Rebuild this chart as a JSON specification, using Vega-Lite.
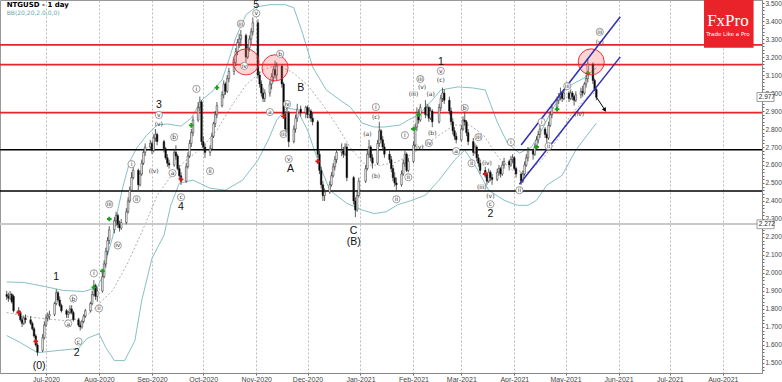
{
"$schema":"https://vega.github.io/schema/vega-lite/v6.json",
"width":762,"height":373,
"autosize":{"type":"none"},
"padding":{"left":0,"top":0,"right":20,"bottom":9},
"background":"white",
"config":{"view":{"stroke":"#999"},"font":"DejaVu Sans"},
"datasets":{
"candles":[
{"d":"2020-06-08","o":1.88,"h":1.90,"l":1.85,"c":1.87},
{"d":"2020-06-09","o":1.87,"h":1.89,"l":1.84,"c":1.86},
{"d":"2020-06-10","o":1.86,"h":1.90,"l":1.85,"c":1.88},
{"d":"2020-06-11","o":1.88,"h":1.89,"l":1.83,"c":1.84},
{"d":"2020-06-12","o":1.87,"h":1.88,"l":1.78,"c":1.79},
{"d":"2020-06-15","o":1.79,"h":1.81,"l":1.76,"c":1.78},
{"d":"2020-06-16","o":1.78,"h":1.79,"l":1.73,"c":1.74},
{"d":"2020-06-17","o":1.74,"h":1.76,"l":1.70,"c":1.72},
{"d":"2020-06-18","o":1.72,"h":1.76,"l":1.71,"c":1.75},
{"d":"2020-06-19","o":1.75,"h":1.77,"l":1.72,"c":1.74},
{"d":"2020-06-22","o":1.74,"h":1.76,"l":1.71,"c":1.72},
{"d":"2020-06-23","o":1.72,"h":1.73,"l":1.68,"c":1.69},
{"d":"2020-06-24","o":1.69,"h":1.70,"l":1.64,"c":1.65},
{"d":"2020-06-25","o":1.65,"h":1.66,"l":1.59,"c":1.60},
{"d":"2020-06-26","o":1.60,"h":1.61,"l":1.54,"c":1.56},
{"d":"2020-06-29","o":1.57,"h":1.66,"l":1.56,"c":1.64},
{"d":"2020-06-30","o":1.64,"h":1.73,"l":1.63,"c":1.71},
{"d":"2020-07-01","o":1.71,"h":1.77,"l":1.70,"c":1.75},
{"d":"2020-07-02","o":1.75,"h":1.78,"l":1.73,"c":1.76},
{"d":"2020-07-03","o":1.76,"h":1.79,"l":1.74,"c":1.77},
{"d":"2020-07-06","o":1.77,"h":1.84,"l":1.76,"c":1.83},
{"d":"2020-07-07","o":1.83,"h":1.91,"l":1.82,"c":1.89},
{"d":"2020-07-08","o":1.89,"h":1.90,"l":1.84,"c":1.85},
{"d":"2020-07-09","o":1.85,"h":1.87,"l":1.81,"c":1.82},
{"d":"2020-07-10","o":1.82,"h":1.83,"l":1.78,"c":1.79},
{"d":"2020-07-13","o":1.79,"h":1.80,"l":1.75,"c":1.77},
{"d":"2020-07-14","o":1.77,"h":1.79,"l":1.75,"c":1.78},
{"d":"2020-07-15","o":1.78,"h":1.82,"l":1.77,"c":1.80},
{"d":"2020-07-16","o":1.80,"h":1.82,"l":1.77,"c":1.78},
{"d":"2020-07-17","o":1.78,"h":1.79,"l":1.73,"c":1.74},
{"d":"2020-07-20","o":1.74,"h":1.75,"l":1.70,"c":1.71},
{"d":"2020-07-21","o":1.71,"h":1.73,"l":1.68,"c":1.70},
{"d":"2020-07-22","o":1.70,"h":1.74,"l":1.69,"c":1.73},
{"d":"2020-07-23","o":1.73,"h":1.77,"l":1.72,"c":1.76},
{"d":"2020-07-24","o":1.76,"h":1.80,"l":1.75,"c":1.79},
{"d":"2020-07-27","o":1.79,"h":1.84,"l":1.78,"c":1.83},
{"d":"2020-07-28","o":1.83,"h":1.90,"l":1.82,"c":1.88},
{"d":"2020-07-29","o":1.88,"h":1.96,"l":1.87,"c":1.93},
{"d":"2020-07-30","o":1.93,"h":1.94,"l":1.85,"c":1.87},
{"d":"2020-07-31","o":1.87,"h":1.92,"l":1.84,"c":1.90},
{"d":"2020-08-03","o":1.90,"h":2.00,"l":1.89,"c":1.98},
{"d":"2020-08-04","o":1.98,"h":2.07,"l":1.97,"c":2.05},
{"d":"2020-08-05","o":2.05,"h":2.14,"l":2.03,"c":2.12},
{"d":"2020-08-06","o":2.12,"h":2.20,"l":2.10,"c":2.18},
{"d":"2020-08-07","o":2.18,"h":2.26,"l":2.16,"c":2.24},
{"d":"2020-08-10","o":2.24,"h":2.31,"l":2.22,"c":2.29},
{"d":"2020-08-11","o":2.29,"h":2.34,"l":2.26,"c":2.32},
{"d":"2020-08-12","o":2.32,"h":2.33,"l":2.25,"c":2.27},
{"d":"2020-08-13","o":2.27,"h":2.29,"l":2.23,"c":2.25},
{"d":"2020-08-14","o":2.25,"h":2.30,"l":2.24,"c":2.28},
{"d":"2020-08-17","o":2.28,"h":2.36,"l":2.27,"c":2.34},
{"d":"2020-08-18","o":2.34,"h":2.42,"l":2.33,"c":2.40},
{"d":"2020-08-19","o":2.40,"h":2.48,"l":2.39,"c":2.46},
{"d":"2020-08-20","o":2.46,"h":2.56,"l":2.45,"c":2.53},
{"d":"2020-08-21","o":2.53,"h":2.60,"l":2.52,"c":2.57},
{"d":"2020-08-24","o":2.57,"h":2.58,"l":2.46,"c":2.49},
{"d":"2020-08-25","o":2.49,"h":2.57,"l":2.48,"c":2.55},
{"d":"2020-08-26","o":2.55,"h":2.63,"l":2.54,"c":2.61},
{"d":"2020-08-27","o":2.61,"h":2.69,"l":2.60,"c":2.67},
{"d":"2020-08-28","o":2.67,"h":2.72,"l":2.65,"c":2.70},
{"d":"2020-08-31","o":2.70,"h":2.74,"l":2.68,"c":2.72},
{"d":"2020-09-01","o":2.72,"h":2.73,"l":2.66,"c":2.68},
{"d":"2020-09-02","o":2.68,"h":2.77,"l":2.67,"c":2.75},
{"d":"2020-09-03","o":2.75,"h":2.80,"l":2.73,"c":2.77},
{"d":"2020-09-04","o":2.77,"h":2.78,"l":2.71,"c":2.73},
{"d":"2020-09-08","o":2.73,"h":2.74,"l":2.67,"c":2.69},
{"d":"2020-09-09","o":2.69,"h":2.70,"l":2.63,"c":2.64},
{"d":"2020-09-10","o":2.64,"h":2.66,"l":2.59,"c":2.61},
{"d":"2020-09-11","o":2.61,"h":2.63,"l":2.58,"c":2.60},
{"d":"2020-09-14","o":2.60,"h":2.69,"l":2.59,"c":2.67},
{"d":"2020-09-15","o":2.67,"h":2.71,"l":2.63,"c":2.65},
{"d":"2020-09-16","o":2.65,"h":2.66,"l":2.57,"c":2.58},
{"d":"2020-09-17","o":2.58,"h":2.60,"l":2.52,"c":2.54},
{"d":"2020-09-18","o":2.54,"h":2.56,"l":2.49,"c":2.51},
{"d":"2020-09-21","o":2.51,"h":2.61,"l":2.50,"c":2.59},
{"d":"2020-09-22","o":2.59,"h":2.67,"l":2.58,"c":2.65},
{"d":"2020-09-23","o":2.65,"h":2.74,"l":2.64,"c":2.72},
{"d":"2020-09-24","o":2.72,"h":2.80,"l":2.70,"c":2.78},
{"d":"2020-09-25","o":2.78,"h":2.87,"l":2.76,"c":2.85},
{"d":"2020-09-28","o":2.85,"h":2.95,"l":2.84,"c":2.92},
{"d":"2020-09-29","o":2.92,"h":2.98,"l":2.90,"c":2.95},
{"d":"2020-09-30","o":2.95,"h":2.96,"l":2.71,"c":2.73},
{"d":"2020-10-01","o":2.73,"h":2.76,"l":2.68,"c":2.70},
{"d":"2020-10-02","o":2.70,"h":2.72,"l":2.64,"c":2.67},
{"d":"2020-10-05","o":2.67,"h":2.71,"l":2.65,"c":2.69},
{"d":"2020-10-06","o":2.69,"h":2.78,"l":2.68,"c":2.76},
{"d":"2020-10-07","o":2.76,"h":2.84,"l":2.75,"c":2.83},
{"d":"2020-10-08","o":2.83,"h":2.90,"l":2.81,"c":2.88},
{"d":"2020-10-09","o":2.88,"h":2.95,"l":2.86,"c":2.93},
{"d":"2020-10-12","o":2.93,"h":3.01,"l":2.92,"c":2.99},
{"d":"2020-10-13","o":2.99,"h":3.07,"l":2.97,"c":3.05},
{"d":"2020-10-14","o":3.05,"h":3.06,"l":2.99,"c":3.01},
{"d":"2020-10-15","o":3.01,"h":3.10,"l":3.00,"c":3.08},
{"d":"2020-10-16","o":3.08,"h":3.14,"l":3.06,"c":3.12},
{"d":"2020-10-19","o":3.12,"h":3.19,"l":3.10,"c":3.17},
{"d":"2020-10-20","o":3.17,"h":3.25,"l":3.15,"c":3.23},
{"d":"2020-10-21","o":3.23,"h":3.30,"l":3.21,"c":3.28},
{"d":"2020-10-22","o":3.28,"h":3.33,"l":3.25,"c":3.30},
{"d":"2020-10-23","o":3.30,"h":3.35,"l":3.26,"c":3.32},
{"d":"2020-10-26","o":3.32,"h":3.33,"l":3.17,"c":3.20},
{"d":"2020-10-27","o":3.20,"h":3.27,"l":3.19,"c":3.25},
{"d":"2020-10-28","o":3.25,"h":3.32,"l":3.23,"c":3.30},
{"d":"2020-10-29","o":3.30,"h":3.36,"l":3.27,"c":3.34},
{"d":"2020-10-30","o":3.34,"h":3.42,"l":3.32,"c":3.39},
{"d":"2020-11-02","o":3.39,"h":3.41,"l":3.08,"c":3.10},
{"d":"2020-11-03","o":3.10,"h":3.12,"l":3.03,"c":3.05},
{"d":"2020-11-04","o":3.05,"h":3.07,"l":2.98,"c":3.00},
{"d":"2020-11-05","o":3.00,"h":3.03,"l":2.95,"c":2.97},
{"d":"2020-11-06","o":2.97,"h":3.02,"l":2.95,"c":3.00},
{"d":"2020-11-09","o":3.00,"h":3.07,"l":2.98,"c":3.05},
{"d":"2020-11-10","o":3.05,"h":3.11,"l":3.02,"c":3.09},
{"d":"2020-11-11","o":3.09,"h":3.15,"l":3.06,"c":3.13},
{"d":"2020-11-12","o":3.13,"h":3.18,"l":3.08,"c":3.10},
{"d":"2020-11-13","o":3.10,"h":3.17,"l":3.07,"c":3.15},
{"d":"2020-11-16","o":3.15,"h":3.16,"l":3.03,"c":3.05},
{"d":"2020-11-17","o":3.05,"h":3.06,"l":2.86,"c":2.88},
{"d":"2020-11-18","o":2.88,"h":2.90,"l":2.77,"c":2.80},
{"d":"2020-11-19","o":2.80,"h":2.92,"l":2.78,"c":2.89},
{"d":"2020-11-20","o":2.89,"h":2.90,"l":2.70,"c":2.73},
{"d":"2020-11-23","o":2.73,"h":2.82,"l":2.72,"c":2.80},
{"d":"2020-11-24","o":2.80,"h":2.88,"l":2.78,"c":2.86},
{"d":"2020-11-25","o":2.86,"h":2.94,"l":2.84,"c":2.91},
{"d":"2020-11-27","o":2.91,"h":2.93,"l":2.87,"c":2.89},
{"d":"2020-11-30","o":2.89,"h":2.93,"l":2.86,"c":2.92},
{"d":"2020-12-01","o":2.92,"h":2.93,"l":2.86,"c":2.88},
{"d":"2020-12-02","o":2.88,"h":2.92,"l":2.86,"c":2.90},
{"d":"2020-12-03","o":2.90,"h":2.91,"l":2.84,"c":2.86},
{"d":"2020-12-04","o":2.86,"h":2.89,"l":2.82,"c":2.84},
{"d":"2020-12-07","o":2.84,"h":2.85,"l":2.64,"c":2.66},
{"d":"2020-12-08","o":2.66,"h":2.68,"l":2.55,"c":2.57},
{"d":"2020-12-09","o":2.57,"h":2.59,"l":2.47,"c":2.49},
{"d":"2020-12-10","o":2.49,"h":2.51,"l":2.40,"c":2.43},
{"d":"2020-12-11","o":2.43,"h":2.47,"l":2.40,"c":2.45},
{"d":"2020-12-14","o":2.45,"h":2.51,"l":2.44,"c":2.49},
{"d":"2020-12-15","o":2.49,"h":2.56,"l":2.48,"c":2.54},
{"d":"2020-12-16","o":2.54,"h":2.61,"l":2.53,"c":2.59},
{"d":"2020-12-17","o":2.59,"h":2.65,"l":2.57,"c":2.63},
{"d":"2020-12-18","o":2.63,"h":2.69,"l":2.61,"c":2.67},
{"d":"2020-12-21","o":2.67,"h":2.72,"l":2.65,"c":2.68},
{"d":"2020-12-22","o":2.68,"h":2.70,"l":2.64,"c":2.66},
{"d":"2020-12-23","o":2.66,"h":2.72,"l":2.65,"c":2.70},
{"d":"2020-12-24","o":2.70,"h":2.72,"l":2.51,"c":2.53},
{"d":"2020-12-28","o":2.53,"h":2.54,"l":2.38,"c":2.40},
{"d":"2020-12-29","o":2.40,"h":2.42,"l":2.31,"c":2.35},
{"d":"2020-12-30","o":2.35,"h":2.45,"l":2.34,"c":2.43},
{"d":"2020-12-31","o":2.43,"h":2.53,"l":2.42,"c":2.51},
{"d":"2021-01-04","o":2.51,"h":2.60,"l":2.50,"c":2.58},
{"d":"2021-01-05","o":2.58,"h":2.68,"l":2.57,"c":2.66},
{"d":"2021-01-06","o":2.66,"h":2.74,"l":2.64,"c":2.70},
{"d":"2021-01-07","o":2.70,"h":2.71,"l":2.62,"c":2.64},
{"d":"2021-01-08","o":2.64,"h":2.66,"l":2.58,"c":2.61},
{"d":"2021-01-11","o":2.61,"h":2.74,"l":2.60,"c":2.72},
{"d":"2021-01-12","o":2.72,"h":2.84,"l":2.70,"c":2.79},
{"d":"2021-01-13","o":2.79,"h":2.80,"l":2.72,"c":2.74},
{"d":"2021-01-14","o":2.74,"h":2.76,"l":2.68,"c":2.70},
{"d":"2021-01-15","o":2.70,"h":2.72,"l":2.64,"c":2.66},
{"d":"2021-01-18","o":2.66,"h":2.68,"l":2.61,"c":2.63},
{"d":"2021-01-19","o":2.63,"h":2.65,"l":2.56,"c":2.58},
{"d":"2021-01-20","o":2.58,"h":2.60,"l":2.51,"c":2.53},
{"d":"2021-01-21","o":2.53,"h":2.56,"l":2.48,"c":2.50},
{"d":"2021-01-22","o":2.50,"h":2.53,"l":2.46,"c":2.49},
{"d":"2021-01-25","o":2.49,"h":2.57,"l":2.48,"c":2.55},
{"d":"2021-01-26","o":2.55,"h":2.63,"l":2.54,"c":2.61},
{"d":"2021-01-27","o":2.61,"h":2.68,"l":2.59,"c":2.66},
{"d":"2021-01-28","o":2.66,"h":2.67,"l":2.56,"c":2.57},
{"d":"2021-01-29","o":2.57,"h":2.64,"l":2.56,"c":2.62},
{"d":"2021-02-01","o":2.62,"h":2.73,"l":2.61,"c":2.71},
{"d":"2021-02-02","o":2.71,"h":2.83,"l":2.70,"c":2.81},
{"d":"2021-02-03","o":2.81,"h":2.92,"l":2.79,"c":2.89},
{"d":"2021-02-04","o":2.89,"h":2.91,"l":2.83,"c":2.85},
{"d":"2021-02-05","o":2.85,"h":2.94,"l":2.84,"c":2.92},
{"d":"2021-02-08","o":2.92,"h":2.96,"l":2.86,"c":2.88},
{"d":"2021-02-09","o":2.88,"h":2.94,"l":2.87,"c":2.92},
{"d":"2021-02-10","o":2.92,"h":2.93,"l":2.84,"c":2.86},
{"d":"2021-02-11","o":2.86,"h":2.92,"l":2.85,"c":2.90},
{"d":"2021-02-12","o":2.90,"h":2.91,"l":2.81,"c":2.84},
{"d":"2021-02-16","o":2.84,"h":2.94,"l":2.83,"c":2.92},
{"d":"2021-02-17","o":2.92,"h":2.99,"l":2.90,"c":2.97},
{"d":"2021-02-18","o":2.97,"h":3.03,"l":2.95,"c":3.00},
{"d":"2021-02-19","o":3.00,"h":3.02,"l":2.94,"c":2.96},
{"d":"2021-02-22","o":2.96,"h":2.98,"l":2.88,"c":2.90},
{"d":"2021-02-23","o":2.90,"h":2.92,"l":2.82,"c":2.84},
{"d":"2021-02-24","o":2.84,"h":2.86,"l":2.77,"c":2.79},
{"d":"2021-02-25","o":2.79,"h":2.81,"l":2.74,"c":2.76},
{"d":"2021-02-26","o":2.76,"h":2.78,"l":2.72,"c":2.74},
{"d":"2021-03-01","o":2.74,"h":2.82,"l":2.73,"c":2.80},
{"d":"2021-03-02","o":2.80,"h":2.87,"l":2.79,"c":2.85},
{"d":"2021-03-03","o":2.85,"h":2.89,"l":2.82,"c":2.84},
{"d":"2021-03-04","o":2.84,"h":2.85,"l":2.76,"c":2.78},
{"d":"2021-03-05","o":2.78,"h":2.80,"l":2.71,"c":2.73},
{"d":"2021-03-08","o":2.73,"h":2.75,"l":2.65,"c":2.67},
{"d":"2021-03-09","o":2.67,"h":2.72,"l":2.66,"c":2.70},
{"d":"2021-03-10","o":2.70,"h":2.71,"l":2.62,"c":2.64},
{"d":"2021-03-11","o":2.64,"h":2.66,"l":2.59,"c":2.61},
{"d":"2021-03-12","o":2.61,"h":2.63,"l":2.55,"c":2.57},
{"d":"2021-03-15","o":2.57,"h":2.59,"l":2.53,"c":2.55},
{"d":"2021-03-16","o":2.55,"h":2.56,"l":2.49,"c":2.51},
{"d":"2021-03-17","o":2.51,"h":2.58,"l":2.50,"c":2.56},
{"d":"2021-03-18","o":2.56,"h":2.57,"l":2.51,"c":2.53},
{"d":"2021-03-19","o":2.53,"h":2.55,"l":2.49,"c":2.52},
{"d":"2021-03-22","o":2.52,"h":2.58,"l":2.51,"c":2.56},
{"d":"2021-03-23","o":2.56,"h":2.60,"l":2.54,"c":2.58},
{"d":"2021-03-24","o":2.58,"h":2.59,"l":2.53,"c":2.55},
{"d":"2021-03-25","o":2.55,"h":2.62,"l":2.54,"c":2.60},
{"d":"2021-03-26","o":2.60,"h":2.64,"l":2.58,"c":2.62},
{"d":"2021-03-29","o":2.62,"h":2.63,"l":2.57,"c":2.60},
{"d":"2021-03-30","o":2.60,"h":2.65,"l":2.59,"c":2.63},
{"d":"2021-03-31","o":2.63,"h":2.66,"l":2.61,"c":2.64},
{"d":"2021-04-01","o":2.64,"h":2.65,"l":2.57,"c":2.58},
{"d":"2021-04-02","o":2.58,"h":2.59,"l":2.53,"c":2.55},
{"d":"2021-04-05","o":2.55,"h":2.56,"l":2.49,"c":2.51},
{"d":"2021-04-06","o":2.51,"h":2.57,"l":2.50,"c":2.55},
{"d":"2021-04-07","o":2.55,"h":2.62,"l":2.54,"c":2.60},
{"d":"2021-04-08","o":2.60,"h":2.66,"l":2.59,"c":2.64},
{"d":"2021-04-09","o":2.64,"h":2.70,"l":2.62,"c":2.68},
{"d":"2021-04-12","o":2.68,"h":2.69,"l":2.63,"c":2.66},
{"d":"2021-04-13","o":2.66,"h":2.72,"l":2.65,"c":2.70},
{"d":"2021-04-14","o":2.70,"h":2.76,"l":2.69,"c":2.74},
{"d":"2021-04-15","o":2.74,"h":2.79,"l":2.72,"c":2.77},
{"d":"2021-04-16","o":2.77,"h":2.83,"l":2.75,"c":2.80},
{"d":"2021-04-19","o":2.80,"h":2.81,"l":2.75,"c":2.77},
{"d":"2021-04-20","o":2.77,"h":2.78,"l":2.72,"c":2.75},
{"d":"2021-04-21","o":2.75,"h":2.84,"l":2.74,"c":2.82},
{"d":"2021-04-22","o":2.82,"h":2.90,"l":2.81,"c":2.88},
{"d":"2021-04-23","o":2.88,"h":2.94,"l":2.86,"c":2.92},
{"d":"2021-04-26","o":2.92,"h":2.98,"l":2.90,"c":2.96},
{"d":"2021-04-27","o":2.96,"h":3.00,"l":2.94,"c":2.98},
{"d":"2021-04-28","o":2.98,"h":3.03,"l":2.96,"c":3.00},
{"d":"2021-04-29","o":3.00,"h":3.01,"l":2.95,"c":2.97},
{"d":"2021-04-30","o":2.97,"h":3.02,"l":2.96,"c":3.00},
{"d":"2021-05-03","o":3.00,"h":3.01,"l":2.95,"c":2.97},
{"d":"2021-05-04","o":2.97,"h":3.02,"l":2.96,"c":3.00},
{"d":"2021-05-05","o":3.00,"h":3.01,"l":2.96,"c":2.98},
{"d":"2021-05-06","o":2.98,"h":2.99,"l":2.93,"c":2.96},
{"d":"2021-05-07","o":2.96,"h":3.01,"l":2.95,"c":2.99},
{"d":"2021-05-10","o":2.99,"h":3.03,"l":2.97,"c":3.01},
{"d":"2021-05-11","o":3.01,"h":3.04,"l":2.98,"c":3.00},
{"d":"2021-05-12","o":3.00,"h":3.06,"l":2.99,"c":3.05},
{"d":"2021-05-13","o":3.05,"h":3.10,"l":3.03,"c":3.08},
{"d":"2021-05-14","o":3.08,"h":3.19,"l":3.06,"c":3.16},
{"d":"2021-05-17","o":3.16,"h":3.17,"l":3.05,"c":3.07},
{"d":"2021-05-18","o":3.07,"h":3.08,"l":3.01,"c":3.02},
{"d":"2021-05-19","o":3.02,"h":3.03,"l":2.96,"c":2.977}
],
"upper":[
{"d":"2020-06-08","v":1.95},{"d":"2020-06-18","v":1.947},{"d":"2020-06-30","v":1.925},{"d":"2020-07-11","v":1.903},{"d":"2020-07-23","v":1.897},{"d":"2020-07-31","v":1.919},{"d":"2020-08-03","v":1.98},{"d":"2020-08-06","v":2.10},{"d":"2020-08-09","v":2.20},{"d":"2020-08-12","v":2.35},{"d":"2020-08-15","v":2.48},{"d":"2020-08-19","v":2.62},{"d":"2020-08-23","v":2.694},{"d":"2020-08-29","v":2.766},{"d":"2020-09-04","v":2.822},{"d":"2020-09-10","v":2.828},{"d":"2020-09-18","v":2.816},{"d":"2020-09-24","v":2.861},{"d":"2020-09-30","v":2.961},{"d":"2020-10-06","v":3.006},{"d":"2020-10-12","v":3.073},{"d":"2020-10-16","v":3.184},{"d":"2020-10-20","v":3.307},{"d":"2020-10-26","v":3.435},{"d":"2020-11-01","v":3.479},{"d":"2020-11-09","v":3.491},{"d":"2020-11-18","v":3.491},{"d":"2020-11-23","v":3.474},{"d":"2020-11-28","v":3.335},{"d":"2020-12-04","v":3.145},{"d":"2020-12-12","v":3.017},{"d":"2020-12-20","v":2.961},{"d":"2020-12-26","v":2.922},{"d":"2021-01-02","v":2.833},{"d":"2021-01-09","v":2.811},{"d":"2021-01-15","v":2.811},{"d":"2021-01-24","v":2.822},{"d":"2021-01-29","v":2.85},{"d":"2021-02-04","v":2.878},{"d":"2021-02-12","v":2.961},{"d":"2021-02-17","v":3.017},{"d":"2021-02-27","v":3.034},{"d":"2021-03-08","v":3.028},{"d":"2021-03-15","v":3.017},{"d":"2021-03-22","v":2.839},{"d":"2021-03-28","v":2.722},{"d":"2021-04-04","v":2.666},{"d":"2021-04-11","v":2.699},{"d":"2021-04-17","v":2.794},{"d":"2021-04-24","v":2.922},{"d":"2021-05-02","v":3.034},{"d":"2021-05-12","v":3.084},{"d":"2021-05-19","v":3.14}
],
"middle":[
{"d":"2020-06-08","v":1.78},{"d":"2020-06-24","v":1.752},{"d":"2020-07-11","v":1.736},{"d":"2020-07-23","v":1.747},{"d":"2020-07-31","v":1.819},{"d":"2020-08-09","v":1.903},{"d":"2020-08-18","v":2.059},{"d":"2020-08-26","v":2.226},{"d":"2020-09-04","v":2.43},{"d":"2020-09-13","v":2.55},{"d":"2020-09-21","v":2.627},{"d":"2020-09-30","v":2.694},{"d":"2020-10-09","v":2.794},{"d":"2020-10-18","v":2.934},{"d":"2020-10-26","v":3.045},{"d":"2020-11-05","v":3.128},{"d":"2020-11-13","v":3.156},{"d":"2020-11-22","v":3.117},{"d":"2020-12-01","v":3.045},{"d":"2020-12-10","v":2.934},{"d":"2020-12-18","v":2.822},{"d":"2020-12-27","v":2.683},{"d":"2021-01-04","v":2.599},{"d":"2021-01-13","v":2.599},{"d":"2021-01-22","v":2.616},{"d":"2021-01-30","v":2.655},{"d":"2021-02-08","v":2.711},{"d":"2021-02-16","v":2.766},{"d":"2021-02-25","v":2.822},{"d":"2021-03-06","v":2.822},{"d":"2021-03-14","v":2.766},{"d":"2021-03-23","v":2.638},{"d":"2021-03-31","v":2.571},{"d":"2021-04-09","v":2.56},{"d":"2021-04-17","v":2.627},{"d":"2021-04-26","v":2.738},{"d":"2021-05-04","v":2.878},{"d":"2021-05-13","v":2.972},{"d":"2021-05-19","v":3.006}
],
"lower":[
{"d":"2020-06-08","v":1.652},{"d":"2020-06-16","v":1.613},{"d":"2020-06-26","v":1.557},{"d":"2020-07-08","v":1.569},{"d":"2020-07-20","v":1.58},{"d":"2020-07-25","v":1.636},{"d":"2020-08-01","v":1.663},{"d":"2020-08-05","v":1.585},{"d":"2020-08-10","v":1.513},{"d":"2020-08-16","v":1.513},{"d":"2020-08-22","v":1.624},{"d":"2020-08-26","v":1.847},{"d":"2020-09-01","v":2.081},{"d":"2020-09-08","v":2.209},{"d":"2020-09-12","v":2.376},{"d":"2020-09-17","v":2.499},{"d":"2020-09-25","v":2.516},{"d":"2020-10-05","v":2.471},{"d":"2020-10-14","v":2.46},{"d":"2020-10-24","v":2.516},{"d":"2020-11-02","v":2.627},{"d":"2020-11-08","v":2.738},{"d":"2020-11-13","v":2.85},{"d":"2020-11-19","v":2.917},{"d":"2020-11-25","v":2.906},{"d":"2020-12-01","v":2.794},{"d":"2020-12-07","v":2.627},{"d":"2020-12-14","v":2.46},{"d":"2020-12-24","v":2.387},{"d":"2021-01-02","v":2.35},{"d":"2021-01-09","v":2.33},{"d":"2021-01-16","v":2.34},{"d":"2021-01-23","v":2.38},{"d":"2021-01-30","v":2.40},{"d":"2021-02-08","v":2.432},{"d":"2021-02-16","v":2.516},{"d":"2021-02-25","v":2.627},{"d":"2021-03-03","v":2.683},{"d":"2021-03-09","v":2.599},{"d":"2021-03-17","v":2.46},{"d":"2021-03-26","v":2.404},{"d":"2021-04-03","v":2.376},{"d":"2021-04-09","v":2.376},{"d":"2021-04-14","v":2.404},{"d":"2021-04-20","v":2.488},{"d":"2021-04-29","v":2.543},{"d":"2021-05-07","v":2.683},{"d":"2021-05-19","v":2.833}
],
"levels":[{"v":3.268,"k":"r"},{"v":3.158,"k":"r"},{"v":2.891,"k":"r"},{"v":2.685,"k":"b"},{"v":2.456,"k":"b"},{"v":2.272,"k":"g"}],
"crosses":[
{"d":"2020-06-15","v":1.78,"k":"r"},{"d":"2020-06-25","v":1.62,"k":"r"},{"d":"2020-09-18","v":2.52,"k":"r"},{"d":"2020-11-17","v":2.87,"k":"r"},{"d":"2020-12-07","v":2.62,"k":"r"},{"d":"2021-03-15","v":2.55,"k":"r"},
{"d":"2020-07-29","v":1.92,"k":"g"},{"d":"2020-08-03","v":2.01,"k":"g"},{"d":"2020-08-07","v":2.30,"k":"g"},{"d":"2020-09-24","v":2.82,"k":"g"},{"d":"2020-10-09","v":3.03,"k":"g"},{"d":"2021-02-01","v":2.80,"k":"g"},{"d":"2021-02-04","v":2.88,"k":"g"},{"d":"2021-04-14","v":2.70,"k":"g"},{"d":"2021-04-26","v":2.91,"k":"g"},{"d":"2021-05-14","v":3.11,"k":"g"}
],
"circles":[{"d":"2020-10-26","v":3.173},{"d":"2020-11-12","v":3.14},{"d":"2021-05-16","v":3.173}],
"channel":[{"d":"2021-04-05","v":2.711,"k":"u"},{"d":"2021-06-02","v":3.424,"k":"u"},{"d":"2021-04-04","v":2.493,"k":"l"},{"d":"2021-06-02","v":3.201,"k":"l"}],
"arrow":[{"d":"2021-05-19","v":2.978},{"d":"2021-05-24","v":2.906}],
"arrowhead":[{"d":"2021-05-24","v":2.906}],
"small":[
{"d":"2020-07-14","v":1.719,"t":"a","c":1},{"d":"2020-07-17","v":1.858,"t":"b","c":1},{"d":"2020-07-20","v":1.619,"t":"c","c":1},{"d":"2020-07-29","v":1.998,"t":"i","c":1},{"d":"2020-08-01","v":1.803,"t":"ii","c":1},{"d":"2020-08-07","v":2.382,"t":"iii","c":1},{"d":"2020-08-12","v":2.153,"t":"iv","c":1},{"d":"2020-08-20","v":2.605,"t":"i","c":1},{"d":"2020-08-23","v":2.41,"t":"ii","c":1},{"d":"2020-09-02","v":2.566,"t":"(iv)","c":0},{"d":"2020-09-05","v":2.878,"t":"v","c":1},{"d":"2020-09-05","v":2.828,"t":"(v)","c":0},{"d":"2020-09-13","v":2.555,"t":"a","c":1},{"d":"2020-09-14","v":2.755,"t":"b","c":1},{"d":"2020-09-18","v":2.421,"t":"c","c":1},{"d":"2020-09-27","v":3.023,"t":"i","c":1},{"d":"2020-10-05","v":2.566,"t":"ii","c":1},{"d":"2020-10-23","v":3.385,"t":"iii","c":1},{"d":"2020-10-25","v":3.151,"t":"iv","c":1},{"d":"2020-11-01","v":3.443,"t":"v","c":1},{"d":"2020-11-09","v":2.894,"t":"a","c":1},{"d":"2020-11-15","v":3.218,"t":"b","c":1},{"d":"2020-11-17","v":2.772,"t":"iii","c":1},{"d":"2020-11-19","v":2.939,"t":"iv","c":1},{"d":"2020-11-20","v":2.633,"t":"v","c":1},{"d":"2021-01-05","v":2.772,"t":"(a)","c":0},{"d":"2021-01-10","v":2.538,"t":"(b)","c":0},{"d":"2021-01-10","v":2.922,"t":"i","c":1},{"d":"2021-01-10","v":2.867,"t":"(c)","c":0},{"d":"2021-01-22","v":2.41,"t":"ii","c":1},{"d":"2021-01-27","v":2.766,"t":"i","c":1},{"d":"2021-01-29","v":2.532,"t":"ii","c":1},{"d":"2021-02-01","v":2.995,"t":"(iii)","c":0},{"d":"2021-02-05","v":3.078,"t":"iii","c":1},{"d":"2021-02-06","v":3.034,"t":"(v)","c":0},{"d":"2021-02-04","v":2.699,"t":"(iv)","c":0},{"d":"2021-02-11","v":2.995,"t":"(a)","c":0},{"d":"2021-02-12","v":2.777,"t":"(b)","c":0},{"d":"2021-02-10","v":2.722,"t":"iv","c":1},{"d":"2021-02-17","v":3.073,"t":"(c)","c":0},{"d":"2021-02-17","v":3.123,"t":"v","c":1},{"d":"2021-02-26","v":2.677,"t":"a","c":1},{"d":"2021-03-03","v":2.917,"t":"b","c":1},{"d":"2021-03-07","v":2.61,"t":"ii","c":1},{"d":"2021-03-11","v":2.755,"t":"iii","c":1},{"d":"2021-03-13","v":2.477,"t":"(iii)","c":0},{"d":"2021-03-16","v":2.61,"t":"(iv)","c":0},{"d":"2021-03-18","v":2.427,"t":"(v)","c":0},{"d":"2021-03-18","v":2.382,"t":"c","c":1},{"d":"2021-03-30","v":2.727,"t":"i","c":1},{"d":"2021-04-04","v":2.46,"t":"ii","c":1},{"d":"2021-04-17","v":2.839,"t":"i","c":1},{"d":"2021-04-21","v":2.705,"t":"ii","c":1},{"d":"2021-05-02","v":3.039,"t":"iii","c":1},{"d":"2021-05-09","v":2.883,"t":"(iv)","c":0},{"d":"2021-05-21","v":3.34,"t":"iii","c":1},{"d":"2021-05-21","v":3.284,"t":"(v)","c":0}
],
"big":[
{"d":"2020-06-27","v":1.485,"t":"(0)"},{"d":"2020-07-07","v":1.975,"t":"1"},{"d":"2020-07-19","v":1.557,"t":"2"},{"d":"2020-09-05","v":2.933,"t":"3"},{"d":"2020-09-18","v":2.365,"t":"4"},{"d":"2020-11-01","v":3.487,"t":"5"},{"d":"2020-11-21","v":2.577,"t":"A"},{"d":"2020-11-27","v":3.028,"t":"B"},{"d":"2020-12-28","v":2.232,"t":"C"},{"d":"2020-12-28","v":2.17,"t":"(B)"},{"d":"2021-02-17","v":3.173,"t":"1"},{"d":"2021-03-18","v":2.326,"t":"2"}
],
"logo":[{"d":"2021-07-21","d2":"2021-08-19","v":3.517,"v2":3.251}],
"logotext":[{"d":"2021-08-04","v":3.40,"t":"FxPro","k":"big"},{"d":"2021-08-04","v":3.329,"t":"Trade Like a Pro","k":"small"}],
"title":[{"d":"2020-06-08","v":3.49,"t":"NTGUSD - 1 day","k":"t"},{"d":"2020-06-08","v":3.446,"t":"BB(20,20,2.0,0,0)","k":"s"}],
"pbox":[{"d":"2021-08-21","d2":"2021-08-31","v":3.003,"v2":2.953},{"d":"2021-08-21","d2":"2021-08-31","v":2.295,"v2":2.246}],
"ptext":[{"d":"2021-08-22","v":2.978,"t":"2.977"},{"d":"2021-08-22","v":2.27,"t":"2.272"}]
},
"layer":[
{"data":{"name":"upper"},"mark":{"type":"line","stroke":"#86c1c3","strokeWidth":1},
 "encoding":{
  "x":{"field":"d","type":"temporal","scale":{"type":"utc","domain":[{"year":2020,"month":6,"date":7,"utc":true},{"year":2021,"month":8,"date":21,"utc":true}]},
   "axis":{"title":null,"values":[{"year":2020,"month":7,"date":1,"utc":true},{"year":2020,"month":8,"date":1,"utc":true},{"year":2020,"month":9,"date":1,"utc":true},{"year":2020,"month":10,"date":1,"utc":true},{"year":2020,"month":11,"date":1,"utc":true},{"year":2020,"month":12,"date":1,"utc":true},{"year":2021,"month":1,"date":1,"utc":true},{"year":2021,"month":2,"date":1,"utc":true},{"year":2021,"month":3,"date":1,"utc":true},{"year":2021,"month":4,"date":1,"utc":true},{"year":2021,"month":5,"date":1,"utc":true},{"year":2021,"month":6,"date":1,"utc":true},{"year":2021,"month":7,"date":1,"utc":true},{"year":2021,"month":8,"date":1,"utc":true}],
    "labelExpr":"utcFormat(datum.value, '%b-%Y')","labelFontSize":7,"labelFont":"Liberation Sans","labelColor":"#444","tickSize":2,"labelPadding":0,"labelFlush":false,"labelOverlap":false,"grid":true,"gridDash":[2,2],"gridColor":"#aaa","gridWidth":0.8,"domainColor":"#888","tickColor":"#666"}},
  "y":{"field":"v","type":"quantitative","scale":{"domain":[1.444,3.517],"nice":false,"zero":false},
   "axis":{"title":null,"orient":"right","tickCount":100,"labelExpr":"abs(datum.value*10 - round(datum.value*10)) < 0.01 ? format(datum.value, '.3f') : ''","labelOverlap":false,"labelFlush":false,"labelFontSize":6.5,"labelFont":"Liberation Sans","labelColor":"#444","tickSize":2,"tickColor":"#666","domainColor":"#888","labelPadding":1,"grid":false}}}},
{"data":{"name":"lower"},"mark":{"type":"line","stroke":"#86c1c3","strokeWidth":1},
 "encoding":{"x":{"field":"d","type":"temporal","scale":{"type":"utc"}},"y":{"field":"v","type":"quantitative","scale":{"domain":[1.444,3.517],"nice":false,"zero":false}}}},
{"data":{"name":"middle"},"mark":{"type":"line","stroke":"#9a9a9a","strokeWidth":0.8,"strokeDash":[2,2]},
 "encoding":{"x":{"field":"d","type":"temporal","scale":{"type":"utc"}},"y":{"field":"v","type":"quantitative","scale":{"domain":[1.444,3.517],"nice":false,"zero":false}}}},
{"data":{"name":"levels"},"transform":[{"filter":"datum.k == 'g'"}],"mark":{"type":"rule","stroke":"#c8c8c8","strokeWidth":2},
 "encoding":{"y":{"field":"v","type":"quantitative","scale":{"domain":[1.444,3.517],"nice":false,"zero":false}}}},
{"data":{"name":"levels"},"transform":[{"filter":"datum.k == 'b'"}],"mark":{"type":"rule","stroke":"#000000","strokeWidth":1.5},
 "encoding":{"y":{"field":"v","type":"quantitative","scale":{"domain":[1.444,3.517],"nice":false,"zero":false}}}},
{"data":{"name":"levels"},"transform":[{"filter":"datum.k == 'r'"}],"mark":{"type":"rule","stroke":"#e8232a","strokeWidth":1.7},
 "encoding":{"y":{"field":"v","type":"quantitative","scale":{"domain":[1.444,3.517],"nice":false,"zero":false}}}},
{"data":{"name":"candles"},"mark":{"type":"rule","stroke":"#333","strokeWidth":0.8},
 "encoding":{"x":{"field":"d","type":"temporal","scale":{"type":"utc"}},"y":{"field":"l","type":"quantitative","scale":{"domain":[1.444,3.517],"nice":false,"zero":false}},"y2":{"field":"h"}}},
{"data":{"name":"candles"},"mark":{"type":"bar","width":1.6,"stroke":"#222","strokeWidth":0.5},
 "encoding":{"x":{"field":"d","type":"temporal","scale":{"type":"utc"}},"y":{"field":"o","type":"quantitative","scale":{"domain":[1.444,3.517],"nice":false,"zero":false}},"y2":{"field":"c"},
  "fill":{"condition":{"test":"datum.c >= datum.o","value":"#ffffff"},"value":"#000000"}}},
{"data":{"name":"crosses"},"mark":{"type":"point","shape":"cross","filled":true,"size":22,"opacity":1},
 "encoding":{"x":{"field":"d","type":"temporal","scale":{"type":"utc"}},"y":{"field":"v","type":"quantitative","scale":{"domain":[1.444,3.517],"nice":false,"zero":false}},
  "color":{"condition":{"test":"datum.k == 'g'","value":"#1c9e1c"},"value":"#d41818"}}},
{"data":{"name":"circles"},"mark":{"type":"point","shape":"circle","filled":true,"size":680,"fill":"#ff5555","fillOpacity":0.25,"stroke":"#e8232a","strokeWidth":1,"strokeOpacity":0.9},
 "encoding":{"x":{"field":"d","type":"temporal","scale":{"type":"utc"}},"y":{"field":"v","type":"quantitative","scale":{"domain":[1.444,3.517],"nice":false,"zero":false}}}},
{"data":{"name":"channel"},"mark":{"type":"line","stroke":"#2f2fb5","strokeWidth":1.5},
 "encoding":{"x":{"field":"d","type":"temporal","scale":{"type":"utc"}},"y":{"field":"v","type":"quantitative","scale":{"domain":[1.444,3.517],"nice":false,"zero":false}},"detail":{"field":"k"}}},
{"data":{"name":"arrow"},"mark":{"type":"line","stroke":"#000","strokeWidth":1},
 "encoding":{"x":{"field":"d","type":"temporal","scale":{"type":"utc"}},"y":{"field":"v","type":"quantitative","scale":{"domain":[1.444,3.517],"nice":false,"zero":false}}}},
{"data":{"name":"arrowhead"},"mark":{"type":"point","shape":"triangle-down","filled":true,"fill":"#000","size":22,"angle":328,"opacity":1},
 "encoding":{"x":{"field":"d","type":"temporal","scale":{"type":"utc"}},"y":{"field":"v","type":"quantitative","scale":{"domain":[1.444,3.517],"nice":false,"zero":false}}}},
{"data":{"name":"small"},"transform":[{"filter":"datum.c == 1"}],"mark":{"type":"point","shape":"circle","filled":true,"fill":"#ffffff","stroke":"#777","strokeWidth":0.7,"size":52,"opacity":1},
 "encoding":{"x":{"field":"d","type":"temporal","scale":{"type":"utc"}},"y":{"field":"v","type":"quantitative","scale":{"domain":[1.444,3.517],"nice":false,"zero":false}}}},
{"data":{"name":"small"},"mark":{"type":"text","fontSize":6,"font":"DejaVu Sans","fill":"#333","align":"center","baseline":"middle"},
 "encoding":{"x":{"field":"d","type":"temporal","scale":{"type":"utc"}},"y":{"field":"v","type":"quantitative","scale":{"domain":[1.444,3.517],"nice":false,"zero":false}},"text":{"field":"t"}}},
{"data":{"name":"big"},"mark":{"type":"text","fontSize":10.5,"font":"Liberation Sans","fill":"#111","align":"center","baseline":"middle"},
 "encoding":{"x":{"field":"d","type":"temporal","scale":{"type":"utc"}},"y":{"field":"v","type":"quantitative","scale":{"domain":[1.444,3.517],"nice":false,"zero":false}},"text":{"field":"t"}}},
{"data":{"name":"logo"},"mark":{"type":"rect","fill":"#ea2229"},
 "encoding":{"x":{"field":"d","type":"temporal","scale":{"type":"utc"}},"x2":{"field":"d2"},"y":{"field":"v","type":"quantitative","scale":{"domain":[1.444,3.517],"nice":false,"zero":false}},"y2":{"field":"v2"}}},
{"data":{"name":"logotext"},"transform":[{"filter":"datum.k == 'big'"}],"mark":{"type":"text","fontSize":17,"font":"Liberation Serif","fill":"#ffffff","align":"center","baseline":"middle"},
 "encoding":{"x":{"field":"d","type":"temporal","scale":{"type":"utc"}},"y":{"field":"v","type":"quantitative","scale":{"domain":[1.444,3.517],"nice":false,"zero":false}},"text":{"field":"t"}}},
{"data":{"name":"logotext"},"transform":[{"filter":"datum.k == 'small'"}],"mark":{"type":"text","fontSize":5.5,"font":"DejaVu Sans","fill":"#ffffff","align":"center","baseline":"middle"},
 "encoding":{"x":{"field":"d","type":"temporal","scale":{"type":"utc"}},"y":{"field":"v","type":"quantitative","scale":{"domain":[1.444,3.517],"nice":false,"zero":false}},"text":{"field":"t"}}},
{"data":{"name":"title"},"transform":[{"filter":"datum.k == 't'"}],"mark":{"type":"text","fontSize":7,"font":"DejaVu Sans","fontWeight":"bold","fill":"#000","align":"left","baseline":"middle"},
 "encoding":{"x":{"field":"d","type":"temporal","scale":{"type":"utc"}},"y":{"field":"v","type":"quantitative","scale":{"domain":[1.444,3.517],"nice":false,"zero":false}},"text":{"field":"t"}}},
{"data":{"name":"title"},"transform":[{"filter":"datum.k == 's'"}],"mark":{"type":"text","fontSize":6,"font":"DejaVu Sans","fill":"#5fa9ad","align":"left","baseline":"middle"},
 "encoding":{"x":{"field":"d","type":"temporal","scale":{"type":"utc"}},"y":{"field":"v","type":"quantitative","scale":{"domain":[1.444,3.517],"nice":false,"zero":false}},"text":{"field":"t"}}},
{"data":{"name":"pbox"},"mark":{"type":"rect","fill":"#ffffff","stroke":"#777","strokeWidth":0.7},
 "encoding":{"x":{"field":"d","type":"temporal","scale":{"type":"utc"}},"x2":{"field":"d2"},"y":{"field":"v","type":"quantitative","scale":{"domain":[1.444,3.517],"nice":false,"zero":false}},"y2":{"field":"v2"}}},
{"data":{"name":"ptext"},"mark":{"type":"text","fontSize":6.5,"font":"Liberation Sans","fill":"#222","align":"left","baseline":"middle"},
 "encoding":{"x":{"field":"d","type":"temporal","scale":{"type":"utc"}},"y":{"field":"v","type":"quantitative","scale":{"domain":[1.444,3.517],"nice":false,"zero":false}},"text":{"field":"t"}}}
]
}
